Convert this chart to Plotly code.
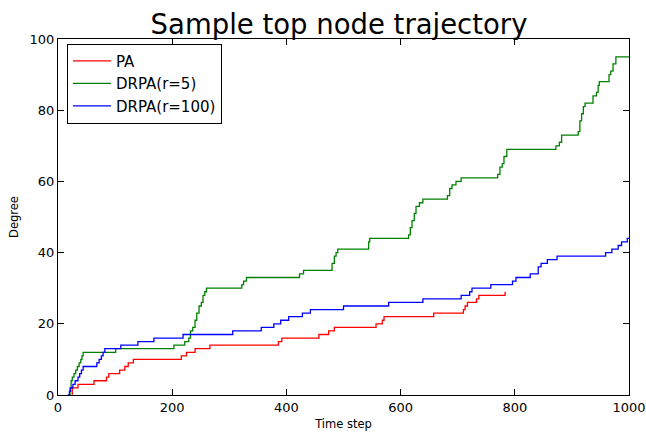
import plotly.graph_objects as go

# PA (red)
pa_x = [24, 25, 35, 63, 85, 89, 108, 117, 123, 132, 216, 225, 240, 266, 386, 392, 457, 474, 484, 557, 568, 571, 658, 710, 713, 717, 733, 737, 783]
pa_y = [0, 2, 3, 4, 5, 6, 7, 8, 9, 10, 11, 12, 13, 14, 15, 16, 17, 18, 19, 20, 21, 22, 23, 24, 25, 26, 27, 28, 29]

# DRPA(r=5) (green)
g_x = [18, 21, 23, 25, 28, 31, 34, 37, 40, 42, 44, 101, 203, 222, 229, 232, 236, 240, 243, 247, 251, 254, 257, 260,
       322, 325, 330, 423, 430, 480, 484, 487, 490, 544, 546, 614, 617, 620, 624, 627, 633, 639, 682, 686, 690, 697, 706,
       770, 774, 778, 781, 786, 872, 878, 882, 911, 914, 917, 920, 923, 937, 943, 946, 948, 965, 968, 972, 977, 1000]
g_y = [0, 2, 4, 5, 6, 7, 8, 9, 10, 11, 12, 13, 14, 15, 16, 18, 19, 21, 23, 25, 26, 28, 29, 30,
       31, 32, 33, 34, 35, 37, 39, 40, 41, 43, 44, 45, 47, 49, 51, 53, 54, 55, 56, 58, 59, 60, 61,
       62, 64, 65, 67, 69, 70, 71, 73, 74, 77, 79, 81, 82, 84, 85, 87, 88, 90, 91, 93, 95, 95]

# DRPA(r=100) (blue)
b_x = [17, 20, 22, 26, 30, 35, 38, 41, 44, 68, 72, 76, 79, 82, 110, 140, 168, 219, 306, 356, 378, 390, 404, 428, 442,
       500, 579, 639, 706, 721, 725, 758, 796, 802, 827, 841, 846, 857, 874, 959, 970, 981, 987, 997, 1000]
b_y = [0, 1, 2, 3, 4, 5, 6, 7, 8, 9, 10, 11, 12, 13, 14, 15, 16, 17, 18, 19, 20, 21, 22, 23, 24,
       25, 26, 27, 28, 29, 30, 31, 32, 33, 34, 36, 37, 38, 39, 40, 41, 42, 43, 44, 44]

x_ticks = [0, 200, 400, 600, 800, 1000]
y_ticks = [0, 20, 40, 60, 80, 100]

FONT = "DejaVu Sans"

fig = go.Figure()
for name, xs, ys, col in [("PA", pa_x, pa_y, "#ff0000"),
                          ("DRPA(r=5)", g_x, g_y, "#008000"),
                          ("DRPA(r=100)", b_x, b_y, "#0000ff")]:
    fig.add_trace(go.Scatter(x=xs, y=ys, mode="lines", name=name,
                             line=dict(color=col, width=1.3, shape="hv")))

axis_common = dict(showline=True, linecolor="black", linewidth=1, mirror="ticks",
                   ticks="inside", ticklen=6, tickwidth=1, tickcolor="black",
                   showgrid=False, zeroline=False,
                   tickfont=dict(family=FONT, size=13, color="black"))

fig.update_layout(
    width=646, height=432,
    margin=dict(l=58, r=17, t=39, b=37),
    paper_bgcolor="white", plot_bgcolor="white",
    font=dict(family=FONT, color="black"),
    title=dict(text="Sample top node trajectory", font=dict(family=FONT, size=27.5, color="black"),
               x=339 / 646, xanchor="center", xref="container",
               y=1 - 24 / 432, yanchor="middle", yref="container"),
    xaxis=dict(range=[0, 1000], tickvals=x_ticks, ticktext=[str(v) for v in x_ticks],
               title=dict(text="Time step", font=dict(family=FONT, size=11.5), standoff=6),
               automargin=False, **axis_common),
    yaxis=dict(range=[0, 100], tickvals=y_ticks, ticktext=[str(v) for v in y_ticks],
               title=dict(text="Degree", font=dict(family=FONT, size=11.5), standoff=8),
               automargin=False, **axis_common),
    legend=dict(x=0.0157, y=0.987, xanchor="left", yanchor="top",
                bgcolor="white", bordercolor="black", borderwidth=1,
                font=dict(family=FONT, size=15, color="black"),
                itemwidth=38),
    showlegend=True,
)

fig.write_html("out.html", config={"displayModeBar": False},
               post_script="document.body.style.margin='0';document.body.style.padding='0';")
